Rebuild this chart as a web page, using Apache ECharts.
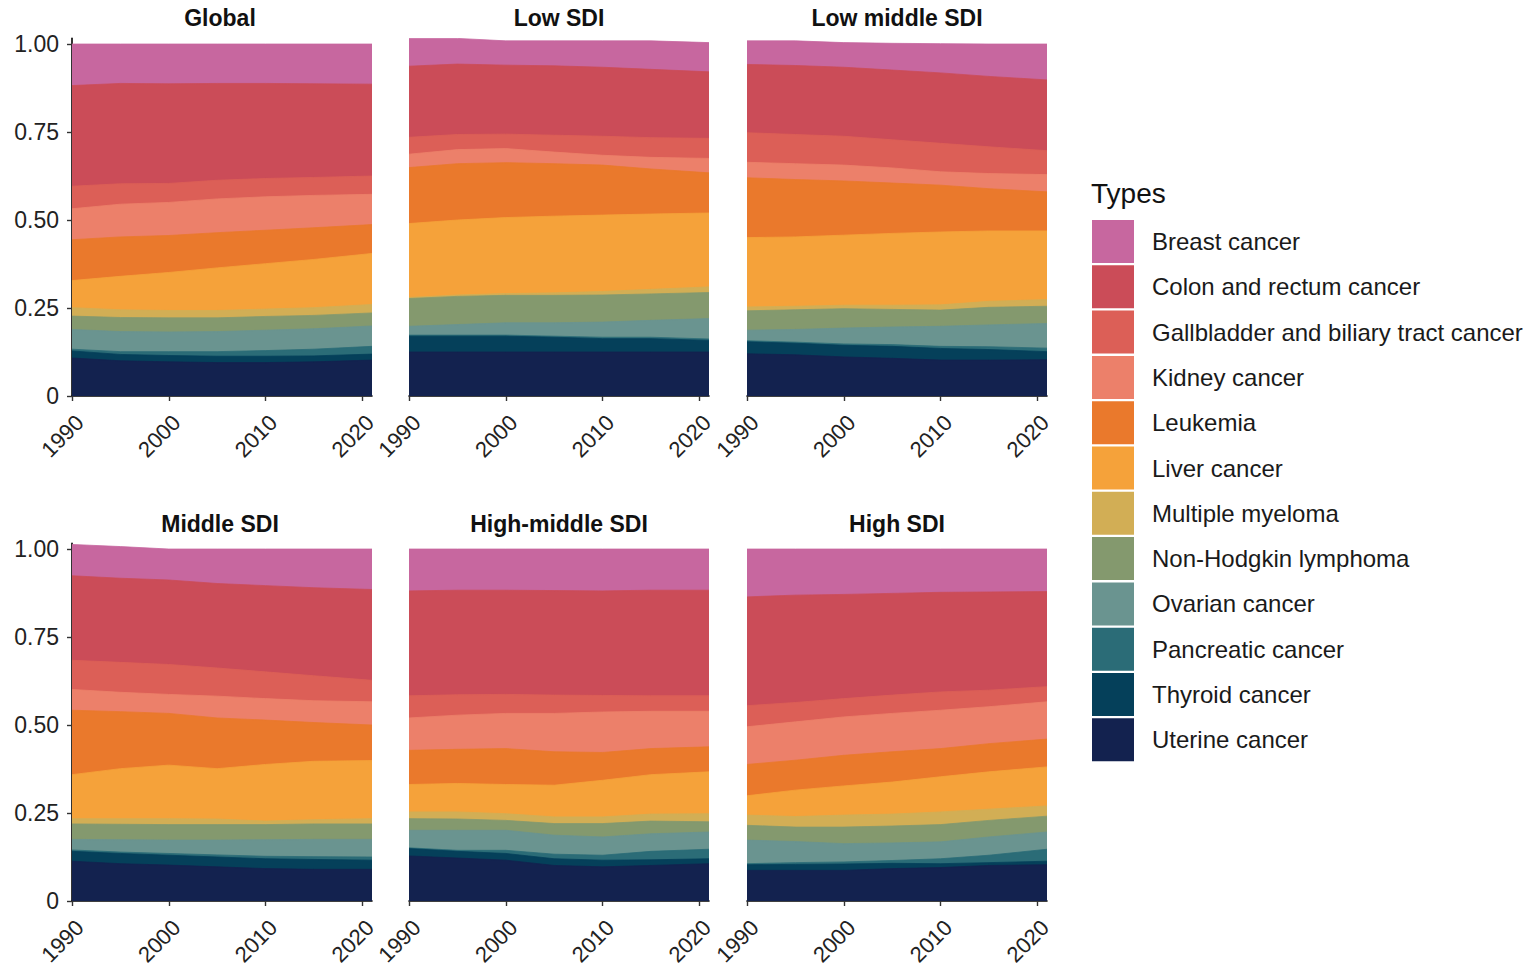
<!DOCTYPE html>
<html><head><meta charset="utf-8">
<script src="https://cdn.jsdelivr.net/npm/echarts@6/dist/echarts.min.js"></script>
<style>html,body{margin:0;padding:0;background:#fff}#chart{width:1535px;height:975px}</style>
</head><body><div id="chart"></div>
<script>
// ---- data ----
const years = [1990, 1995, 2000, 2005, 2010, 2015, 2021];
const panelNames = ['Global', 'Low SDI', 'Low middle SDI', 'Middle SDI', 'High-middle SDI', 'High SDI'];
// legend order (top of stack first)
const types = ['Breast cancer', 'Colon and rectum cancer', 'Gallbladder and biliary tract cancer', 'Kidney cancer',
  'Leukemia', 'Liver cancer', 'Multiple myeloma', 'Non-Hodgkin lymphoma', 'Ovarian cancer',
  'Pancreatic cancer', 'Thyroid cancer', 'Uterine cancer'];
const typeColors = ['#C7679F', '#CB4C58', '#DC5F57', '#EC806A', '#EA792C', '#F5A23A', '#D2AE55',
  '#84996E', '#6A9490', '#2B6C77', '#05405A', '#13224F'];
const xTicks = [1990, 2000, 2010, 2020];
const yTicks = [0, 0.25, 0.5, 0.75, 1];

// rows: bottom -> top of stack (Uterine ... Breast); columns: years
const globalShares = [
  [.108,.100,.097,.095,.095,.097,.102],
  [.020,.018,.018,.018,.018,.017,.017],
  [.005,.008,.011,.013,.016,.019,.022],
  [.056,.057,.056,.057,.058,.058,.058],
  [.038,.040,.040,.039,.039,.038,.037],
  [.024,.022,.021,.021,.021,.022,.024],
  [.077,.095,.108,.121,.129,.137,.145],
  [.116,.112,.105,.100,.095,.090,.082],
  [.088,.093,.094,.096,.095,.092,.086],
  [.064,.058,.054,.053,.052,.051,.052],
  [.286,.285,.283,.275,.270,.266,.261],
  [.118,.112,.113,.112,.112,.113,.114]
];
const lowShares = [
  [.125,.125,.125,.125,.125,.125,.125],
  [.045,.045,.045,.042,.038,.038,.033],
  [.003,.003,.003,.003,.004,.004,.004],
  [.025,.030,.035,.038,.043,.048,.058],
  [.079,.080,.078,.078,.077,.075,.074],
  [.003,.004,.005,.007,.010,.013,.016],
  [.210,.213,.216,.218,.217,.214,.210],
  [.159,.160,.156,.149,.142,.128,.114],
  [.038,.040,.040,.033,.028,.033,.041],
  [.048,.043,.041,.048,.054,.056,.057],
  [.202,.200,.196,.197,.196,.194,.189],
  [.079,.073,.069,.071,.075,.081,.083]
];
const lowMiddleShares = [
  [.120,.117,.111,.107,.102,.102,.103],
  [.034,.033,.033,.034,.033,.030,.023],
  [.003,.003,.004,.005,.006,.008,.010],
  [.030,.036,.045,.050,.057,.062,.070],
  [.055,.056,.055,.050,.046,.050,.049],
  [.011,.010,.010,.012,.015,.017,.019],
  [.197,.197,.199,.204,.207,.200,.195],
  [.170,.163,.154,.143,.133,.120,.111],
  [.044,.045,.045,.043,.038,.043,.049],
  [.084,.083,.082,.080,.081,.076,.068],
  [.194,.196,.196,.198,.200,.200,.201],
  [.067,.070,.070,.076,.083,.092,.102]
];
const middleShares = [
  [.113,.106,.102,.097,.092,.090,.090],
  [.028,.029,.028,.028,.028,.028,.026],
  [.004,.004,.005,.006,.007,.008,.009],
  [.030,.035,.038,.042,.047,.049,.050],
  [.044,.044,.044,.044,.043,.044,.044],
  [.015,.016,.017,.016,.010,.012,.015],
  [.125,.142,.152,.143,.161,.166,.165],
  [.183,.162,.147,.144,.126,.110,.101],
  [.059,.055,.054,.062,.061,.062,.066],
  [.083,.085,.085,.080,.076,.071,.061],
  [.240,.239,.240,.240,.245,.250,.258],
  [.089,.090,.088,.098,.104,.110,.115]
];
const highMiddleShares = [
  [.128,.122,.116,.101,.097,.101,.106],
  [.021,.019,.019,.019,.019,.016,.014],
  [.002,.003,.009,.013,.014,.024,.027],
  [.050,.057,.057,.054,.052,.050,.049],
  [.033,.032,.028,.033,.038,.036,.029],
  [.019,.020,.019,.019,.019,.020,.023],
  [.078,.081,.083,.090,.104,.112,.119],
  [.097,.097,.102,.095,.079,.074,.071],
  [.092,.097,.100,.109,.115,.106,.101],
  [.063,.058,.054,.052,.047,.044,.044],
  [.298,.297,.296,.297,.297,.300,.300],
  [.119,.117,.117,.118,.119,.117,.117]
];
const highShares = [
  [.087,.087,.087,.092,.095,.101,.103],
  [.016,.017,.018,.015,.011,.008,.010],
  [.003,.005,.006,.008,.014,.021,.034],
  [.067,.060,.052,.050,.048,.052,.049],
  [.042,.041,.047,.048,.049,.047,.045],
  [.029,.030,.034,.034,.036,.032,.029],
  [.055,.075,.083,.091,.100,.106,.111],
  [.089,.085,.087,.086,.080,.080,.079],
  [.107,.109,.109,.109,.109,.105,.106],
  [.060,.055,.052,.052,.052,.047,.043],
  [.309,.305,.296,.289,.283,.279,.270],
  [.136,.131,.129,.126,.123,.122,.121]
];
const panelShares = [globalShares, lowShares, lowMiddleShares, middleShares, highMiddleShares, highShares];

// ---- layout ----
const FONT = '"Liberation Sans", Arial, sans-serif';
const colLeft = [72, 409, 747];
const rowTop = [38.4, 543.4];
const panelW = 300, panelH = 357.6;
const yMax = 1.016;

const grids = [], xAxes = [], yAxes = [], series = [], graphics = [];
panelNames.forEach((name, p) => {
  const c = p % 3, r = Math.floor(p / 3);
  grids.push({ left: colLeft[c], top: rowTop[r], width: panelW, height: panelH });
  xAxes.push({
    type: 'value', gridIndex: p, min: 1990, max: 2021,
    axisLine: { show: true, onZero: false, lineStyle: { color: '#000', width: 1.6 } },
    axisTick: { show: true, length: 5, customValues: xTicks, lineStyle: { color: '#333', width: 1.4 } },
    axisLabel: { customValues: xTicks, rotate: 45, margin: 15, fontSize: 22, color: '#222', fontFamily: FONT,
      align: 'right', verticalAlign: 'top', formatter: v => String(v) },
    splitLine: { show: false }
  });
  const showY = c === 0;
  yAxes.push({
    type: 'value', gridIndex: p, min: 0, max: yMax,
    axisLine: { show: showY, lineStyle: { color: '#000', width: 1.6 } },
    axisTick: { show: showY, length: 5, customValues: yTicks, lineStyle: { color: '#333', width: 1.4 } },
    axisLabel: { show: showY, customValues: yTicks, margin: 13, fontSize: 23, color: '#222', fontFamily: FONT,
      formatter: v => v === 0 ? '0' : v.toFixed(2) },
    splitLine: { show: false }
  });
  // cumulative tops (bottom -> top), then draw from the top layer down so lower layers paint over
  const rows = panelShares[p];
  const cum = [];
  rows.forEach((vals, k) => {
    cum.push(vals.map((v, i) => (k === 0 ? 0 : cum[k - 1][i]) + v));
  });
  for (let k = rows.length - 1; k >= 0; k--) {
    const t = types.length - 1 - k; // bottom row = last legend entry
    series.push({
      name: types[t], type: 'line', xAxisIndex: p, yAxisIndex: p,
      data: years.map((yr, i) => [yr, cum[k][i]]),
      showSymbol: false, symbol: 'none', silent: true,
      lineStyle: { width: 0.8, color: typeColors[t] },
      areaStyle: { color: typeColors[t], opacity: 1, origin: 'start' },
      itemStyle: { color: typeColors[t] }
    });
  }
  graphics.push({
    type: 'text', x: colLeft[c] + panelW / 2 - (c === 0 ? 2 : 0), y: r === 0 ? 18 : 524,
    style: { text: name, fontSize: 23, fontWeight: 'bold', fontFamily: FONT, fill: '#111', align: 'center', verticalAlign: 'middle' }
  });
});
graphics.push({
  type: 'text', x: 1091, y: 193,
  style: { text: 'Types', fontSize: 28, fontFamily: FONT, fill: '#111', align: 'left', verticalAlign: 'middle' }
});

const chart = echarts.init(document.getElementById('chart'), null, { renderer: 'svg' });
chart.setOption({
  animation: false,
  backgroundColor: '#fff',
  grid: grids, xAxis: xAxes, yAxis: yAxes, series: series,
  legend: {
    data: types, orient: 'vertical', left: 1087, top: 215,
    itemWidth: 42, itemHeight: 43, itemGap: 2.3, icon: 'rect', selectedMode: false,
    textStyle: { fontSize: 24, color: '#1a1a1a', fontFamily: FONT, padding: [0, 0, 0, 13] }
  },
  graphic: graphics
});
</script>
</body></html>
